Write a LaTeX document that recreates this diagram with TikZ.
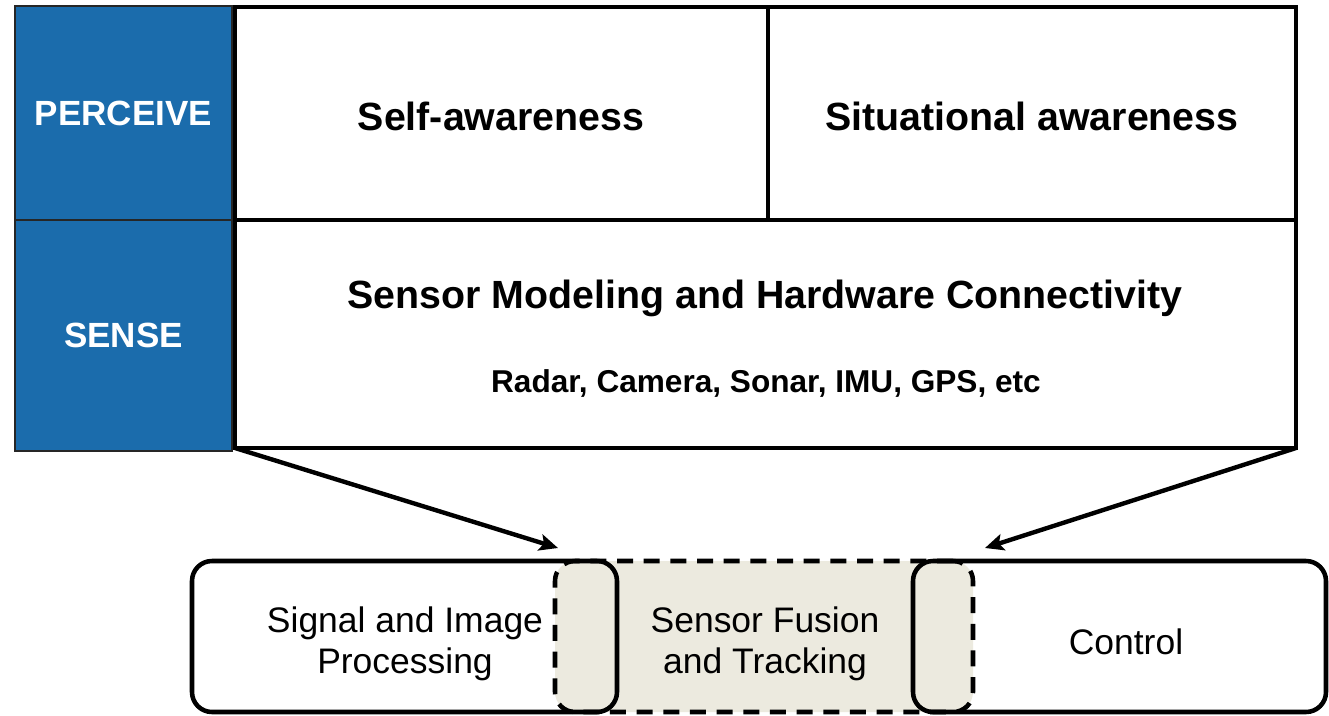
\documentclass[tikz,border=0pt]{standalone}
\usepackage{fontspec}
\setmainfont{Liberation Sans}
\usetikzlibrary{arrows.meta}
\definecolor{senseblue}{HTML}{1B6CAC}
\definecolor{fusionbeige}{HTML}{ECEADF}
\begin{document}
\begin{tikzpicture}[x=0.75pt,y=-0.75pt,
  stage/.style={draw=black!85, line width=0.8pt, fill=senseblue, text=white,
    font=\fontsize{26.25}{30}\selectfont\bfseries, inner sep=0pt, outer sep=0pt},
  cell/.style={draw, line width=3.5pt, inner sep=0pt, outer sep=0pt},
  boldtxt/.style={font=\fontsize{29.5}{34}\selectfont\bfseries, inner sep=0pt},
  subtxt/.style={font=\fontsize{23.7}{28}\selectfont\bfseries, inner sep=0pt},
  boxfill/.style={fill=white, rounded corners=15pt, inner sep=0pt, outer sep=0pt,
    minimum height=113.25pt},
  boxline/.style={draw, line width=3.4pt, rounded corners=15pt},
  fusionbox/.style={fill=fusionbeige, draw, line width=3.4pt, dash pattern=on 12pt off 8pt,
    rounded corners=15pt, inner sep=0pt, outer sep=0pt, minimum height=113.25pt},
  plaintxt/.style={font=\fontsize{26.6}{30.75}\selectfont, align=center, inner sep=0pt},
  flow/.style={line width=3.3pt, -{Stealth[length=14pt,width=12.5pt,inset=3pt]}}
]
\useasboundingbox (0,0) rectangle (1329,715);

% stage labels on the left
\node[stage, minimum width=162.75pt, minimum height=160.5pt] (perceive) at (123.5,113) {PERCEIVE};
\node[stage, minimum width=162.75pt, minimum height=173.25pt] (sense) at (123.5,335.5) {SENSE};

% upper table
\node[cell, minimum width=399.75pt, minimum height=159.75pt] (selfaw) at (501.5,113.5) {};
\node[cell, minimum width=396pt, minimum height=159.75pt] (sitaw) at (1032,113.5) {};
\node[cell, minimum width=795.75pt, minimum height=171pt] (sensing) at (765.5,334) {};

\node[boldtxt] (selftxt) at (501,116) {Self-awareness};
\node[boldtxt] (sittxt) at (1032,116) {Situational awareness};
\node[boldtxt] (sensetxt) at (765,298) {Sensor Modeling and Hardware Connectivity};
\node[subtxt] (sensors) at (766,383) {Radar, Camera, Sonar, IMU, GPS, etc};

% lower processing chain
\node[boxfill, minimum width=318.75pt] (sip) at (404.5,636.5) {};
\node[boxfill, minimum width=309.75pt] (ctrl) at (1119.5,636.5) {};
\node[fusionbox, minimum width=313.5pt] (fusion) at (764,636.5) {};
\draw[boxline] (sip.north west) rectangle (sip.south east);
\draw[boxline] (ctrl.north west) rectangle (ctrl.south east);

\node[plaintxt] (siptxt) at (405,644) {Signal and Image\\Processing};
\node[plaintxt] (fusiontxt) at (765,644) {Sensor Fusion\\and Tracking};
\node[plaintxt] (ctrltxt) at (1126,642) {Control};

% arrows from the sensing layer down to the chain
\coordinate (lefttip) at (558,548);
\coordinate (righttip) at (985,548);
\draw[flow] (sensing.south west) -- (lefttip);
\draw[flow] (sensing.south east) -- (righttip);
\end{tikzpicture}
\end{document}
